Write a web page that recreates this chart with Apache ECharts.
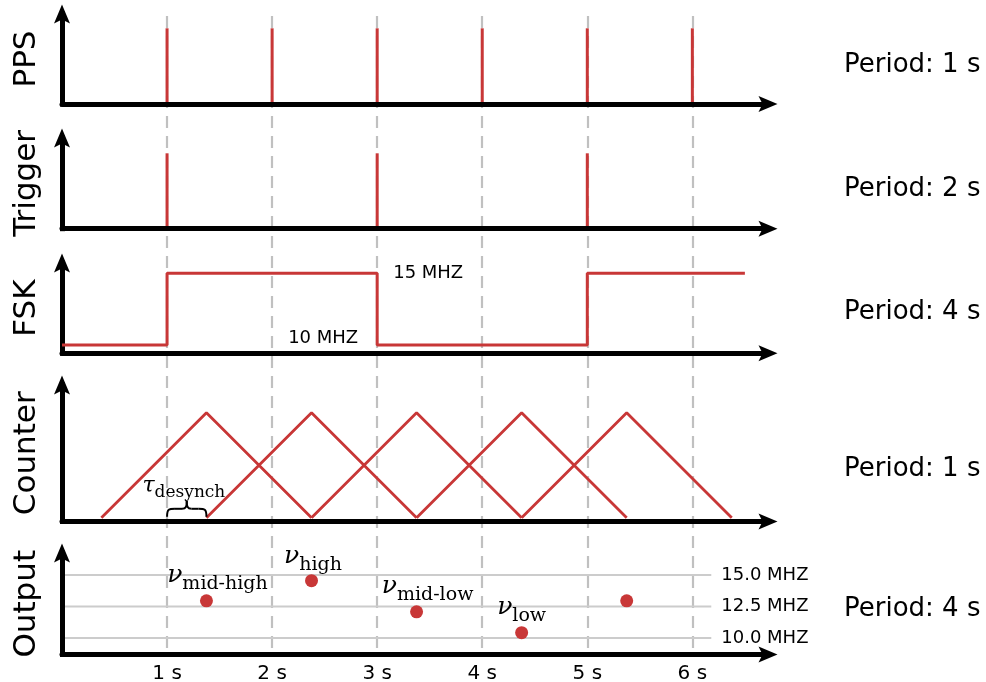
<!DOCTYPE html>
<html><head><meta charset="utf-8">
<script src="https://cdn.jsdelivr.net/npm/echarts@6/dist/echarts.min.js"></script>
<style>html,body{margin:0;padding:0;background:#fff}#chart{width:986px;height:682px}</style>
</head><body><div id="chart"></div>
<script>
// ---- data ----
const panelNames = ['PPS', 'Trigger', 'FSK', 'Counter', 'Output'];
const periodTexts = ['Period: 1 s', 'Period: 2 s', 'Period: 4 s', 'Period: 1 s', 'Period: 4 s'];
const tickLabels = ['1 s', '2 s', '3 s', '4 s', '5 s', '6 s'];
const ppsTimes = [1, 2, 3, 4, 5, 6];
const triggerTimes = [1, 3, 5];
const pulseLevel = 1;
const fskTimes = [0, 1, 1, 3, 3, 5, 5, 6.5];
const fskValues = [10, 10, 15, 15, 10, 10, 15, 15];
const fskLabels = ['', '', '', '15 MHZ', '10 MHZ', '', '', ''];
const counterRamp1 = [0.375, 1.375, 2.375];
const counterRamp2 = [1.375, 2.375, 3.375];
const counterRamp3 = [2.375, 3.375, 4.375];
const counterRamp4 = [3.375, 4.375, 5.375];
const counterRamp5 = [4.375, 5.375, 6.375];
const counterLevels = [0, 1, 0];
const outputTimes = [1.375, 2.375, 3.375, 4.375, 5.375];
const outputValues = [12.95, 14.55, 12.08, 10.42, 12.95];
const outputNames = ['mid-high', 'high', 'mid-low', 'low', ''];
const outputLevels = [15, 12.5, 10];
const outputLevelSpan = [0, 6.18];
const tauAnnotation = [1.16, 0.30];
const braceSpan = [1, 1.375];

// ---- layout / style ----
const RED = '#c83737';
const xMax = 6.72;
const LEFT = 62, WIDTH = 706;
const gridTops = [14, 138, 263, 385, 553];
const gridBottoms = [104, 228.7, 353.3, 521.5, 654.5];
const yRanges = [[0, 1.189], [0, 1.203], [9.42, 15.72], [-0.036, 1.264], [8.69, 16.75]];
const periodY = [65, 189, 312, 469, 609];
const nuOffsets = [[11, -25], [1.5, -24], [11, -25], [0, -25], [0, 0]];
const ARROW = 'path://M8,0 L16,19 L8,15 L0,19 Z';

const grids = [], xAxes = [], yAxes = [];
for (let i = 0; i < 5; i++) {
  grids.push({ left: LEFT, width: WIDTH, top: gridTops[i], height: gridBottoms[i] - gridTops[i],
    containLabel: false, outerBoundsMode: 'none' });
  xAxes.push({
    type: 'value', gridIndex: i, min: 0, max: xMax, interval: 1, z: 3,
    axisLine: { show: true, onZero: false, symbol: ['none', ARROW], symbolSize: [16, 19],
      lineStyle: { color: '#000', width: 5 } },
    axisTick: { show: false }, splitLine: { show: false },
    axisLabel: {
      show: i === 4, margin: 9, fontSize: 20, fontFamily: 'DejaVu Sans', color: '#000',
      showMinLabel: false, showMaxLabel: false,
      formatter: v => (Number.isInteger(v) && v >= 1 && v <= tickLabels.length) ? tickLabels[v - 1] : ''
    }
  });
  yAxes.push({
    type: 'value', gridIndex: i, min: yRanges[i][0], max: yRanges[i][1], z: 3,
    axisLine: { show: true, onZero: false, symbol: ['none', ARROW], symbolSize: [16, 19],
      lineStyle: { color: '#000', width: 5, cap: 'square' } },
    axisTick: { show: false }, axisLabel: { show: false }, splitLine: { show: false },
    name: panelNames[i], nameLocation: 'middle', nameGap: 20, nameRotate: 90,
    nameTextStyle: { fontSize: 31, fontFamily: 'DejaVu Sans', color: '#000' }
  });
}
// full-height grid for the dashed second markers
grids.push({ left: LEFT, width: WIDTH, top: 16, height: 636, containLabel: false, outerBoundsMode: 'none' });
xAxes.push({
  type: 'value', gridIndex: 5, min: 0, max: xMax, interval: 1, z: 0,
  axisLine: { show: false }, axisTick: { show: false }, axisLabel: { show: false },
  splitLine: { show: true, showMinLine: false, showMaxLine: false,
    lineStyle: { color: '#c0c0c0', width: 2.2, type: [12, 8] } }
});
yAxes.push({ type: 'value', gridIndex: 5, show: false, min: 0, max: 1, splitLine: { show: false } });

const series = [];
series.push({ type: 'bar', xAxisIndex: 0, yAxisIndex: 0, barWidth: 3, itemStyle: { color: RED },
  data: ppsTimes.map(t => [t, pulseLevel]) });
series.push({ type: 'bar', xAxisIndex: 1, yAxisIndex: 1, barWidth: 3, itemStyle: { color: RED },
  data: triggerTimes.map(t => [t, pulseLevel]) });
series.push({ type: 'line', xAxisIndex: 2, yAxisIndex: 2, symbol: 'none', lineStyle: { color: RED, width: 3 },
  data: fskTimes.map((t, i) => [t, fskValues[i]]) });
[counterRamp1, counterRamp2, counterRamp3, counterRamp4, counterRamp5].forEach(r => {
  series.push({ type: 'line', xAxisIndex: 3, yAxisIndex: 3, symbol: 'none', lineStyle: { color: RED, width: 2.8 },
    data: r.map((t, i) => [t, counterLevels[i]]) });
});
outputLevels.forEach(v => {
  series.push({ type: 'line', xAxisIndex: 4, yAxisIndex: 4, symbol: 'none', silent: true, z: 1,
    lineStyle: { color: '#cccccc', width: 2 },
    endLabel: { show: true, distance: 10, formatter: () => v.toFixed(1) + ' MHZ',
      fontSize: 18, fontFamily: 'DejaVu Sans', color: '#000' },
    data: outputLevelSpan.map(t => [t, v]) });
});
series.push({ type: 'scatter', xAxisIndex: 4, yAxisIndex: 4, symbolSize: 13, itemStyle: { color: RED, opacity: 1 },
  data: outputTimes.map((t, i) => ({ value: [t, outputValues[i]], name: outputNames[i],
    label: { show: !!outputNames[i], position: 'inside', offset: nuOffsets[i] } })),
  label: {
    formatter: p => '{n|\u03bd}{s|' + p.name + '}',
    rich: {
      n: { fontFamily: 'DejaVu Serif', fontStyle: 'italic', fontSize: 25, lineHeight: 34, color: '#000' },
      s: { fontFamily: 'DejaVu Serif', fontSize: 19, lineHeight: 18, padding: [16, 0, 0, 0], color: '#000' }
    }
  } });

const option = {
  animation: false,
  backgroundColor: '#fff',
  grid: grids, xAxis: xAxes, yAxis: yAxes, series: series
};
const chart = echarts.init(document.getElementById('chart'), null, { renderer: 'canvas' });
chart.setOption(option);

// annotations positioned through the axes
const graphics = [];
periodTexts.forEach((t, i) => {
  graphics.push({ type: 'text', x: 844, y: periodY[i],
    style: { text: t, font: '26px "DejaVu Sans"', fill: '#000', align: 'left', verticalAlign: 'middle' } });
});
fskTimes.forEach((t, i) => {
  if (!fskLabels[i]) return;
  const p = chart.convertToPixel({ gridIndex: 2 }, [t, fskValues[i]]);
  const up = fskValues[i] > 12.5;
  graphics.push({ type: 'text', z: 10, x: up ? p[0] + 16 : p[0] - 19, y: up ? p[1] : p[1] - 7,
    style: { text: fskLabels[i], font: '18px "DejaVu Sans"', fill: '#000',
      align: up ? 'left' : 'right', verticalAlign: 'middle' } });
});
const tauPx = chart.convertToPixel({ gridIndex: 3 }, tauAnnotation);
const bL = chart.convertToPixel({ gridIndex: 3 }, [braceSpan[0], 0.16]);
const bR = chart.convertToPixel({ gridIndex: 3 }, [braceSpan[1], 0.01]);
graphics.push({ type: 'text', x: tauPx[0], y: tauPx[1], z: 10,
  style: { text: '{t|\u03c4}{s|desynch}', align: 'center', verticalAlign: 'middle', fill: '#000',
    rich: {
      t: { fontFamily: 'DejaVu Serif', fontStyle: 'italic', fontSize: 22, lineHeight: 30, fill: '#000' },
      s: { fontFamily: 'DejaVu Serif', fontSize: 17, lineHeight: 17, padding: [13, 0, 0, 0], fill: '#000' }
    } } });
// curly brace built from bezier pieces
(function () {
  const x0 = bL[0], x1 = bR[0], yTop = bL[1], yBot = bR[1];
  const w = x1 - x0, ym = (yTop + yBot) / 2, xm = (x0 + x1) / 2;
  const st = { fill: 'none', stroke: '#000', lineWidth: 2 };
  graphics.push({ type: 'bezierCurve', z: 10, style: st,
    shape: { x1: x0, y1: yBot, cpx1: x0, cpy1: ym, cpx2: x0 + w * 0.05, cpy2: ym, x2: x0 + w * 0.2, y2: ym } });
  graphics.push({ type: 'line', z: 10, style: st,
    shape: { x1: x0 + w * 0.2, y1: ym, x2: xm - w * 0.12, y2: ym } });
  graphics.push({ type: 'bezierCurve', z: 10, style: st,
    shape: { x1: xm - w * 0.12, y1: ym, cpx1: xm - w * 0.02, cpy1: ym, cpx2: xm, cpy2: ym - 2, x2: xm, y2: yTop } });
  graphics.push({ type: 'bezierCurve', z: 10, style: st,
    shape: { x1: xm, y1: yTop, cpx1: xm, cpy1: ym - 2, cpx2: xm + w * 0.02, cpy2: ym, x2: xm + w * 0.12, y2: ym } });
  graphics.push({ type: 'line', z: 10, style: st,
    shape: { x1: xm + w * 0.12, y1: ym, x2: x1 - w * 0.2, y2: ym } });
  graphics.push({ type: 'bezierCurve', z: 10, style: st,
    shape: { x1: x1 - w * 0.2, y1: ym, cpx1: x1 - w * 0.05, cpy1: ym, cpx2: x1, cpy2: ym, x2: x1, y2: yBot } });
})();
chart.setOption({ graphic: graphics });
</script></body></html>
